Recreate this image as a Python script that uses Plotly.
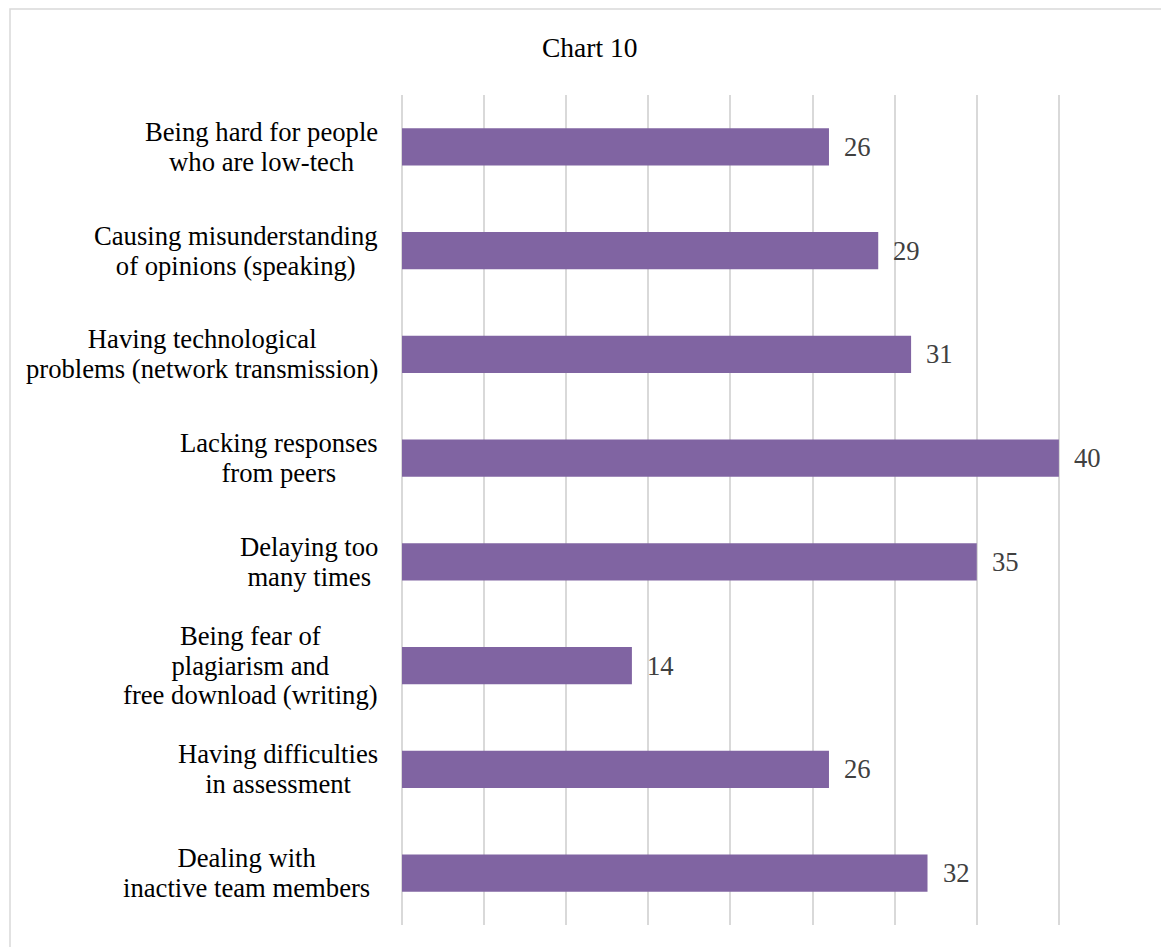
import plotly.graph_objects as go

# Survey responses: difficulties reported, listed top to bottom
categories = [
    "Being hard for people<br>who are low-tech",
    "Causing misunderstanding<br>of opinions (speaking)",
    "Having technological<br>problems (network transmission)",
    "Lacking responses<br>from peers",
    "Delaying too<br>many times",
    "Being fear of<br>plagiarism and<br>free download (writing)",
    "Having difficulties<br>in assessment",
    "Dealing with<br>inactive team members",
]
counts = [26, 29, 31, 40, 35, 14, 26, 32]
label_shift = [-22, -22, -22, -22, -22, -22, -22, -30]

W, H = 1161, 947
ML, MR, MT, MB = 402, 20, 95, 22
PW, PH = W - ML - MR, H - MT - MB

FONT = "Liberation Serif, Times New Roman, serif"
TEXT_PX = 26.67          # glyph size of category and value labels
LINE_PX = 29.5           # distance between label lines
BAR_COLOR = "#8064A2"
GRID = "#d9d9d9"


def sized(text, px):
    """Wrap each line in a span so glyphs are larger than the line pitch."""
    return "<br>".join(
        f"<span style='font-size:{px}px'>{part}</span>" for part in text.split("<br>")
    )


fig = go.Figure(
    go.Bar(
        x=counts,
        y=categories,
        orientation="h",
        marker=dict(color=BAR_COLOR, line=dict(width=0)),
        hoverinfo="x+y",
    )
)

annotations = []
# Category labels, centred line by line, right edge near the axis
for cat, dx in zip(categories, label_shift):
    annotations.append(dict(
        x=0, xref="paper", y=cat, yref="y",
        text=sized(cat, TEXT_PX), showarrow=False,
        xanchor="right", yanchor="middle", align="center", xshift=dx,
        font=dict(family=FONT, size=LINE_PX / 1.3, color="#000000"),
    ))
# Value labels to the right of each bar
for cat, v in zip(categories, counts):
    annotations.append(dict(
        x=v, xref="x", y=cat, yref="y",
        text=str(v), showarrow=False, xanchor="left", yanchor="middle",
        xshift=13,
        font=dict(family=FONT, size=TEXT_PX, color="#404040"),
    ))

# Light chart-area border (left and top edges fall inside the page)
x_left = (10 - ML) / PW
x_right = (W + 5 - ML) / PW
y_top = (PH + MT - 9) / PH
y_bot = -(MB + 5) / PH

fig.update_layout(
    width=W, height=H,
    margin=dict(l=ML, r=MR, t=MT, b=MB),
    paper_bgcolor="white", plot_bgcolor="white",
    showlegend=False,
    bargap=0.64,
    title=dict(
        text="Chart 10", x=0.508, xref="container", xanchor="center",
        y=1 - 47 / H, yref="container", yanchor="middle",
        font=dict(family=FONT, size=27.5, color="#000000"),
    ),
    xaxis=dict(
        range=[0, 45], dtick=5, showticklabels=False,
        showgrid=True, gridcolor=GRID, gridwidth=1.5,
        zeroline=True, zerolinecolor=GRID, zerolinewidth=1.5,
        showline=False, fixedrange=True,
    ),
    yaxis=dict(
        categoryorder="array", categoryarray=categories[::-1],
        showticklabels=False, showgrid=False, zeroline=False,
        showline=False, fixedrange=True,
    ),
    annotations=annotations,
    shapes=[dict(
        type="rect", xref="paper", yref="paper",
        x0=x_left, x1=x_right, y0=y_bot, y1=y_top,
        line=dict(color=GRID, width=1.5), fillcolor="rgba(0,0,0,0)",
        layer="below",
    )],
)

fig.write_html("out.html")
